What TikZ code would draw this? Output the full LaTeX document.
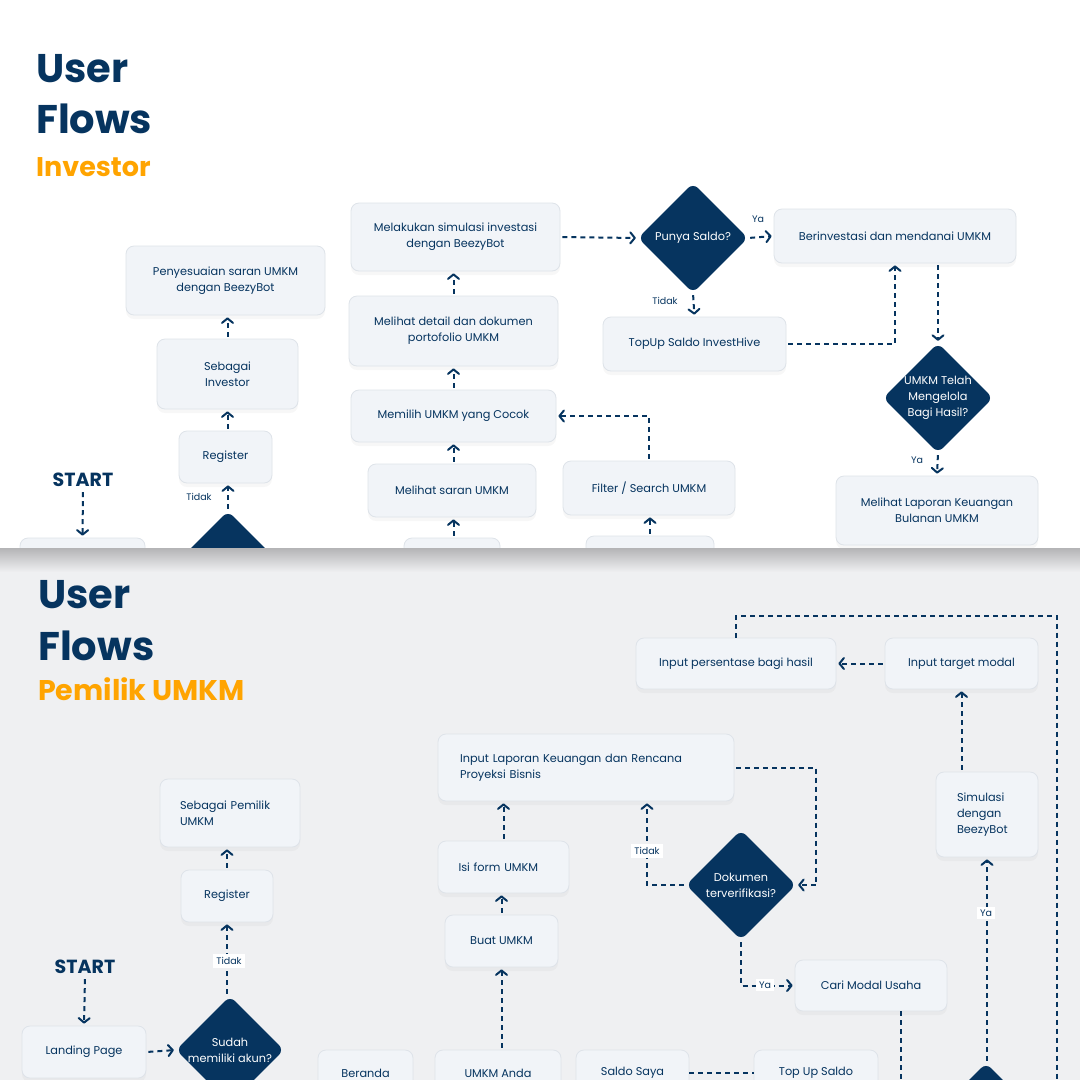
\documentclass[tikz,border=0pt]{standalone}
\usepackage{fontspec}
\setmainfont{Poppins}
\usetikzlibrary{arrows.meta,shapes.geometric,shadows,calc}
\definecolor{navy}{HTML}{06345F}
\definecolor{orangeT}{HTML}{FFA400}
\definecolor{boxfill}{HTML}{F1F4F8}
\definecolor{boxline}{HTML}{DEE3E9}
\definecolor{panel}{HTML}{EFF0F2}
\definecolor{shadowgrey}{HTML}{B4B4B6}
\newcommand{\bodyfont}{\fontsize{11.3}{16}\selectfont}
\newcommand{\smallfont}{\fontsize{9.5}{11}\selectfont}
\begin{document}
\begin{tikzpicture}[x=1pt,y=-1pt,
  box/.style={rounded corners=8pt, fill=boxfill, draw=boxline, line width=0.8pt,
    text=navy, align=center, font=\bodyfont, inner sep=3pt,
    drop shadow={shadow xshift=0pt,shadow yshift=-4pt,opacity=0.06}},
  lbox/.style={box, align=left},
  dia/.style={diamond, fill=navy, minimum width=110, minimum height=110,
    inner sep=0pt, rounded corners=7pt},
  dtext/.style={text=white, align=center, font=\bodyfont},
  flow/.style={draw=navy, line width=2pt, dash pattern=on 5pt off 4pt,
    -{Straight Barb[length=4.5pt,width=11pt,round]}, shorten >=2pt, shorten <=2pt},
  plain/.style={draw=navy, line width=2pt, dash pattern=on 5pt off 4pt},
  lab/.style={fill=white, text=navy, font=\smallfont, inner sep=3pt},
  ttl/.style={anchor=base west, inner sep=0pt, text=navy, font=\bfseries\fontsize{40}{40}\selectfont},
  sub/.style={anchor=base west, inner sep=0pt, text=orangeT, font=\bfseries\fontsize{27}{27}\selectfont},
  starttxt/.style={inner sep=0pt, text=navy, font=\bfseries\fontsize{19}{19}\selectfont}
]
\clip (0,0) rectangle (1080,1080);
\fill[white] (0,0) rectangle (1080,1080);

% ---------------- Top panel: Investor ----------------
\node[ttl] (t1a) at (36,82) {User};
\node[ttl] (t1b) at (36,133) {Flows};
\node[sub] (t1c) at (36,176) {Investor};

\node[box, minimum width=199, minimum height=69] (p1) at (225.5,280.5) {Penyesuaian saran UMKM\\dengan BeezyBot};
\node[box, minimum width=141, minimum height=70] (p2) at (227.5,374) {Sebagai\\Investor};
\node[box, minimum width=93, minimum height=52] (p3) at (225.5,457) {Register};
\node[dia] (p4) at (228,566) {};
\node[starttxt] (s1) at (83,480) {START};
\node[box, minimum width=125, minimum height=52] (p5) at (82.5,564) {};

\node[box, minimum width=209, minimum height=68] (m1) at (455.5,237) {Melakukan simulasi investasi\\dengan BeezyBot};
\node[box, minimum width=209, minimum height=70] (m2) at (453.5,331) {Melihat detail dan dokumen\\portofolio UMKM};
\node[box, minimum width=205, minimum height=52] (m3) at (453.5,416) {Memilih UMKM yang Cocok};
\node[box, minimum width=168, minimum height=53] (m4) at (452,490.5) {Melihat saran UMKM};
\node[box, minimum width=96, minimum height=52] (m5) at (452,564) {};
\node[box, minimum width=172, minimum height=54] (f1) at (649,488) {Filter / Search UMKM};
\node[box, minimum width=128, minimum height=52] (f2) at (650,562) {};

\node[dia, label={[dtext]center:Punya Saldo?}] (d1) at (693,238) {};
\node[box, minimum width=242, minimum height=54] (b1) at (895,236) {Berinvestasi dan mendanai UMKM};
\node[box, minimum width=183, minimum height=54] (tp) at (694.5,344) {TopUp Saldo InvestHive};
\node[dia, label={[dtext]center:{UMKM Telah\\Mengelola\\Bagi Hasil?}}] (d2) at (938,398) {};
\node[box, minimum width=202, minimum height=69] (l1) at (937,510.5) {Melihat Laporan Keuangan\\Bulanan UMKM};

\draw[flow] (p3.north -| p2.south) -- (p2.south);
\draw[flow] (p2.north) -- (p2.north |- p1.south);
\draw[flow] (p4.north) -- (p4.north |- p3.south);
\node[lab] (lt1) at (199,497) {Tidak};
\draw[flow] ([yshift=-3pt]s1.south) -- (p5.north);
\draw[flow] (m2.north) -- (m2.north |- m1.south);
\draw[flow] (m3.north) -- (m3.north |- m2.south);
\draw[flow] (m4.north -| m3.south) -- (m3.south);
\draw[flow] (m5.north -| m3.south) -- (m3.south |- m4.south);
\draw[flow] (f2.north) -- (f2.north |- f1.south);
\draw[flow] (f1.north) |- (m3.east);
\draw[flow] (m1.east) -- (d1.west);
\draw[flow] (d1.east) -- (b1.west);
\node[lab] (ly1) at (758,219) {Ya};
\draw[flow] (d1.south) -- (tp.north);
\node[lab] (lt2) at (665,301) {Tidak};
\draw[flow] (tp.east) -| (b1.south);
\draw[flow] (b1.south -| d2.north) -- (d2.north);
\draw[flow] (d2.south) -- (l1.north);
\node[lab] (ly2) at (917,460) {Ya};

% ---------------- Bottom panel: Pemilik UMKM ----------------
\fill[panel] (0,548) rectangle (1080,1080);
\shade[top color=shadowgrey, bottom color=panel] (0,548) rectangle (1080,572);

\node[ttl] (t2a) at (38,608) {User};
\node[ttl] (t2b) at (38,660) {Flows};
\node[sub, font=\bfseries\fontsize{28.5}{28.5}\selectfont] (t2c) at (38,700) {Pemilik UMKM};

\node[box, minimum width=200, minimum height=51] (q1) at (736,663.5) {Input persentase bagi hasil};
\node[box, minimum width=153, minimum height=51] (q2) at (961.5,663.5) {Input target modal};
\node[lbox, minimum width=296, minimum height=67, text width=252] (q3) at (586,767.5) {Input Laporan Keuangan dan Rencana\\Proyeksi Bisnis};
\node[lbox, minimum width=140, minimum height=68, text width=100] (q4) at (230,813) {Sebagai Pemilik\\UMKM};
\node[box, minimum width=92, minimum height=52] (q5) at (227,896) {Register};
\node[lbox, minimum width=131, minimum height=52, text width=90] (q6) at (503.5,867) {Isi form UMKM};
\node[box, minimum width=113, minimum height=52] (q7) at (501.5,941) {Buat UMKM};
\node[dia, label={[dtext]center:{Dokumen\\terverifikasi?}}] (d3) at (741,885) {};
\node[lbox, minimum width=102, minimum height=85, text width=60] (q8) at (987,814.5) {Simulasi\\dengan\\BeezyBot};
\node[box, minimum width=152, minimum height=51] (q9) at (871,985.5) {Cari Modal Usaha};
\node[starttxt] (s2) at (85,967) {START};
\node[box, minimum width=124, minimum height=52] (q10) at (84,1052) {Landing Page};
\node[dia, minimum width=108, minimum height=108, label={[dtext]center:{Sudah\\memiliki akun?}}] (d4) at (230,1050) {};
\node[box, minimum width=95, minimum height=46] (q11) at (365.5,1073) {Beranda};
\node[box, minimum width=126, minimum height=46] (q12) at (498,1073) {UMKM Anda};
\node[box, minimum width=113, minimum height=46] (q13) at (632.5,1073) {Saldo Saya};
\node[box, minimum width=124, minimum height=46] (q14) at (816,1073) {Top Up Saldo};
\node[dia] (d5) at (986,1118) {};

\draw[flow] ([yshift=-3pt]s2.south) -- (q10.north);
\draw[flow] (q10.east) -- (d4.west);
\draw[flow] (d4.north -| q5.south) -- (q5.south);
\node[lab] (lt3) at (229,961) {Tidak};
\draw[flow] (q5.north) -- (q5.north |- q4.south);
\draw[flow] (q12.north -| q7.south) -- (q7.south);
\draw[flow] (q7.north) -- (q7.north |- q6.south);
\draw[flow] (q6.north) -- (q6.north |- q3.south);
\draw[flow] (q3.east) -- ++(82,0) |- (d3.east);
\draw[flow] (d3.west) -| ([xshift=61pt]q3.south);
\node[lab] (lt4) at (647,851) {Tidak};
\draw[flow] (d3.south) |- (q9.west);
\node[lab] (ly3) at (765,985) {Ya};
\draw[plain] ([xshift=30pt]q9.south) -- ++(0,100);
\draw[plain] (q13.east) -- (q14.west);
\draw[flow] (d5.north -| q8.south) -- (q8.south);
\node[lab] (ly4) at (986,913) {Ya};
\draw[flow] (q8.north -| q2.south) -- (q2.south);
\draw[flow] (q2.west) -- (q1.east);
\draw[plain] (q1.north) -- ++(0,-22) -| ++(321,500);
\end{tikzpicture}
\end{document}
